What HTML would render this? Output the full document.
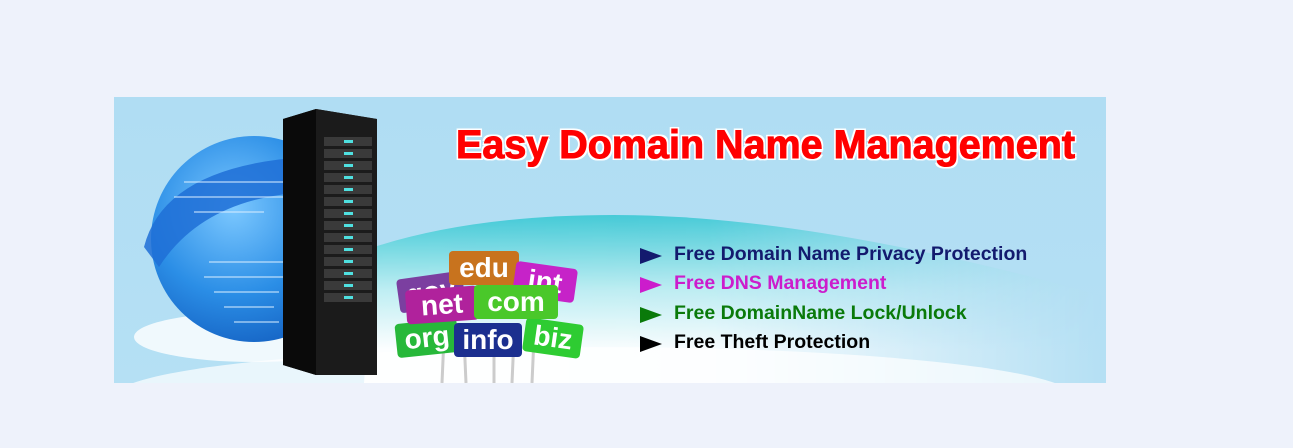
<!DOCTYPE html>
<html><head><style>
body{margin:0;width:1293px;height:448px;background:#eef2fb;position:relative;overflow:hidden;font-family:"Liberation Sans",sans-serif}
#b{position:absolute;left:114px;top:97px;width:992px;height:286px;overflow:hidden;background:linear-gradient(#b0ddf3,#b5e0f4)}
.t{position:absolute;font-weight:bold;white-space:nowrap}
.li{position:absolute;left:560px;font-size:19.5px;font-weight:bold;white-space:nowrap}
.ar{position:absolute;left:526px;width:0;height:0}
.tag{position:absolute;color:#fff;font-weight:bold;border-radius:4px;text-align:center;font-size:28px;line-height:34px}
</style></head><body>
<div id="b">
<svg width="992" height="286" style="position:absolute;left:0;top:0">
<defs>
<linearGradient id="hv" x1="0" y1="0" x2="0" y2="1"><stop offset="0" stop-color="#3cc8d4"/><stop offset="0.45" stop-color="#bfeef2"/><stop offset="0.8" stop-color="#fff"/></linearGradient>
<linearGradient id="hm" x1="0" x2="1"><stop offset="0" stop-color="#fff" stop-opacity="1"/><stop offset="0.6" stop-color="#fff" stop-opacity="0.9"/><stop offset="1" stop-color="#fff" stop-opacity="0"/></linearGradient>
<mask id="m"><rect width="992" height="286" fill="url(#hm)"/></mask>
<radialGradient id="g" cx="0.4" cy="0.35" r="0.7"><stop offset="0" stop-color="#7cc8ff"/><stop offset="0.6" stop-color="#2b8ee6"/><stop offset="1" stop-color="#1563c4"/></radialGradient>
<linearGradient id="s" x1="0" x2="1"><stop offset="0" stop-color="#111"/><stop offset="1" stop-color="#2a2a2a"/></linearGradient>
</defs>
<path d="M250 286 L260 150 Q360 118 500 118 Q700 118 992 200 L992 286 Z" fill="url(#hv)" mask="url(#m)"/>
<ellipse cx="140" cy="240" rx="120" ry="25" fill="#fff" opacity="0.8"/>
<ellipse cx="480" cy="300" rx="480" ry="50" fill="#fff" opacity="0.7"/>
<circle cx="140" cy="142" r="103" fill="url(#g)"/>
<path d="M30 150 Q50 70 190 60 L170 40 L240 70 L190 120 L195 95 Q90 100 45 170 Z" fill="#1f6fd6" opacity="0.85"/>
<g stroke="#d5ecff" stroke-width="1.5" opacity="0.7">
<line x1="70" y1="85" x2="170" y2="85"/><line x1="60" y1="100" x2="175" y2="100"/><line x1="90" y1="180" x2="170" y2="180"/><line x1="100" y1="195" x2="165" y2="195"/><line x1="110" y1="210" x2="160" y2="210"/><line x1="95" y1="165" x2="170" y2="165"/><line x1="80" y1="115" x2="150" y2="115"/><line x1="120" y1="225" x2="165" y2="225"/></g>
<polygon points="169,22 202,12 263,22 263,278 202,278 169,268" fill="url(#s)"/>
<polygon points="202,12 263,22 263,278 202,278" fill="#1b1b1b"/>
<polygon points="169,22 202,12 202,278 169,268" fill="#0a0a0a"/>
<g fill="#3a3a3a">
<rect x="210" y="40" width="48" height="9"/><rect x="210" y="52" width="48" height="9"/><rect x="210" y="64" width="48" height="9"/><rect x="210" y="76" width="48" height="9"/><rect x="210" y="88" width="48" height="9"/><rect x="210" y="100" width="48" height="9"/><rect x="210" y="112" width="48" height="9"/><rect x="210" y="124" width="48" height="9"/><rect x="210" y="136" width="48" height="9"/><rect x="210" y="148" width="48" height="9"/><rect x="210" y="160" width="48" height="9"/><rect x="210" y="172" width="48" height="9"/><rect x="210" y="184" width="48" height="9"/><rect x="210" y="196" width="48" height="9"/></g>
<g fill="#4fe0e0"><rect x="230" y="43" width="9" height="3"/><rect x="230" y="55" width="9" height="3"/><rect x="230" y="67" width="9" height="3"/><rect x="230" y="79" width="9" height="3"/><rect x="230" y="91" width="9" height="3"/><rect x="230" y="103" width="9" height="3"/><rect x="230" y="115" width="9" height="3"/><rect x="230" y="127" width="9" height="3"/><rect x="230" y="139" width="9" height="3"/><rect x="230" y="151" width="9" height="3"/><rect x="230" y="163" width="9" height="3"/><rect x="230" y="175" width="9" height="3"/><rect x="230" y="187" width="9" height="3"/><rect x="230" y="199" width="9" height="3"/></g>
<g stroke="#ccc" stroke-width="3"><line x1="330" y1="240" x2="328" y2="286"/><line x1="350" y1="240" x2="352" y2="286"/><line x1="380" y1="240" x2="380" y2="286"/><line x1="400" y1="240" x2="398" y2="286"/><line x1="420" y1="240" x2="418" y2="286"/></g>
</svg>
<div class="tag" style="left:284px;top:178px;width:66px;background:#7b3fa0;transform:rotate(-8deg)">gov</div>
<div class="tag" style="left:335px;top:154px;width:70px;background:#c8731e">edu</div>
<div class="tag" style="left:400px;top:168px;width:62px;background:#c623c8;transform:rotate(8deg)">int</div>
<div class="tag" style="left:282px;top:224px;width:62px;background:#27b83a;transform:rotate(-6deg)">org</div>
<div class="tag" style="left:340px;top:226px;width:68px;background:#1c2f8f">info</div>
<div class="tag" style="left:410px;top:224px;width:58px;background:#2ecc32;transform:rotate(8deg)">biz</div>
<div class="tag" style="left:292px;top:191px;width:72px;background:#b0229c;transform:rotate(-4deg)">net</div>
<div class="tag" style="left:360px;top:188px;width:84px;background:#4ac82a">com</div>
<div class="t" style="left:342px;top:26px;font-size:39.5px;color:#f00;-webkit-text-stroke:1px #f00;text-shadow:0 0 3px #fff,2px 2px 0 #fff,-2px -2px 0 #fff,2px -2px 0 #fff,-2px 2px 0 #fff">Easy Domain Name Management</div>
<div class="ar" style="top:151px;border-top:8px solid transparent;border-bottom:8px solid transparent;border-left:22px solid #131a6e"></div>
<div class="li" style="top:146px;color:#131a6e">Free Domain Name Privacy Protection</div>
<div class="ar" style="top:180px;border-top:8px solid transparent;border-bottom:8px solid transparent;border-left:22px solid #cc1ccc"></div>
<div class="li" style="top:175px;color:#cc1ccc">Free DNS Management</div>
<div class="ar" style="top:210px;border-top:8px solid transparent;border-bottom:8px solid transparent;border-left:22px solid #0a7a0a"></div>
<div class="li" style="top:205px;color:#0a7a0a">Free DomainName Lock/Unlock</div>
<div class="ar" style="top:239px;border-top:8px solid transparent;border-bottom:8px solid transparent;border-left:22px solid #000"></div>
<div class="li" style="top:234px;color:#000">Free Theft Protection</div>
</div>
</body></html>
